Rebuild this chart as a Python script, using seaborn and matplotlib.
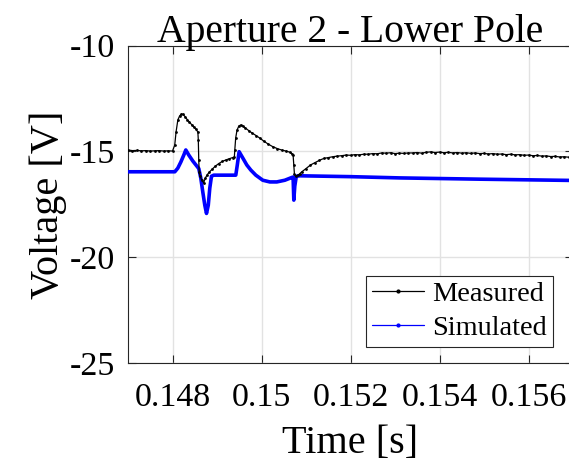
import matplotlib
matplotlib.use("Agg")
import matplotlib.pyplot as plt
from matplotlib.lines import Line2D
import seaborn as sns
import pandas as pd

# ---------------- data ----------------
meas_t = [
    0.14700, 0.14710, 0.14720, 0.14730, 0.14740, 0.14750, 0.14760, 0.14770, 0.14780, 0.14790, 0.14800,
    0.14805, 0.14808, 0.14812, 0.14816, 0.14820, 0.14824, 0.14828, 0.14833, 0.14838, 0.14843, 0.14848,
    0.14853, 0.14857, 0.14858, 0.14859, 0.14860, 0.14862, 0.14866, 0.14870, 0.14874, 0.14878, 0.14883,
    0.14889, 0.14896, 0.14904, 0.14912, 0.14920, 0.14928, 0.14935, 0.14939, 0.14940, 0.14942, 0.14945,
    0.14949, 0.14953, 0.14958, 0.14964, 0.14971, 0.14979, 0.14988, 0.14997, 0.15005, 0.15015, 0.15025,
    0.15035, 0.15045, 0.15055, 0.15063, 0.15068, 0.15071, 0.150725, 0.15074, 0.15077, 0.15082, 0.15086,
    0.15090, 0.15100, 0.15110, 0.15120, 0.15130, 0.15140, 0.15150, 0.15160, 0.15170, 0.15180, 0.15190,
    0.15200, 0.15210, 0.15220, 0.15230, 0.15240, 0.15250, 0.15260, 0.15270, 0.15280, 0.15290, 0.15300,
    0.15310, 0.15320, 0.15330, 0.15340, 0.15350, 0.15360, 0.15370, 0.15380, 0.15390, 0.15400, 0.15410,
    0.15420, 0.15430, 0.15440, 0.15450, 0.15460, 0.15470, 0.15480, 0.15490, 0.15500, 0.15510, 0.15520,
    0.15530, 0.15540, 0.15550, 0.15560, 0.15570, 0.15580, 0.15590, 0.15600, 0.15610, 0.15620, 0.15630,
    0.15640, 0.15650, 0.15660, 0.15670, 0.15680, 0.15690, 0.15700,
]
meas_v = [
    -14.93, -14.96, -14.95, -14.97, -14.96, -14.98, -14.97, -14.96, -14.98, -14.97, -14.98,
    -14.70, -14.08, -13.51, -13.32, -13.23, -13.25, -13.35, -13.49, -13.61, -13.73, -13.84,
    -13.96, -14.08, -14.46, -15.41, -15.98, -16.17, -16.36, -16.48, -16.25, -16.10, -15.97,
    -15.84, -15.70, -15.57, -15.47, -15.40, -15.34, -15.29, -15.26, -14.93, -14.36, -13.99,
    -13.80, -13.75, -13.80, -13.89, -14.01, -14.13, -14.25, -14.38, -14.51, -14.65, -14.77,
    -14.86, -14.93, -14.98, -15.03, -15.10, -15.17, -15.64, -16.07, -16.17, -16.12, -16.05,
    -15.97, -15.81, -15.64, -15.53, -15.42, -15.33, -15.29, -15.25, -15.22, -15.20, -15.17,
    -15.18, -15.15, -15.16, -15.13, -15.13, -15.10, -15.11, -15.07, -15.08, -15.06, -15.10,
    -15.08, -15.09, -15.07, -15.07, -15.05, -15.08, -15.04, -15.02, -15.05, -15.03, -15.06,
    -15.04, -15.07, -15.05, -15.08, -15.06, -15.09, -15.07, -15.10, -15.09, -15.12, -15.10,
    -15.13, -15.12, -15.15, -15.13, -15.16, -15.15, -15.18, -15.17, -15.20, -15.19, -15.22,
    -15.21, -15.24, -15.23, -15.26, -15.25, -15.27, -15.26,
]

sim_t = [
    0.146996, 0.147490, 0.148052, 0.148119, 0.148187, 0.148254, 0.148299, 0.148366, 0.148456,
    0.148546, 0.148591, 0.148636, 0.148681, 0.148726, 0.148764, 0.148804, 0.148838, 0.148876,
    0.148928, 0.149422, 0.149456, 0.149497, 0.149580, 0.149670, 0.149760, 0.149872, 0.150029,
    0.150187, 0.150344, 0.150524, 0.150681, 0.150710, 0.150726, 0.150748, 0.150782, 0.150861,
    0.151985, 0.153108, 0.154907, 0.157000,
]
sim_v = [
    -15.96, -15.96, -15.96, -15.79, -15.50, -15.17, -14.93, -15.17, -15.45,
    -15.69, -15.81, -16.26, -16.92, -17.54, -17.93, -17.54, -16.73, -16.17,
    -16.12, -16.12, -15.64, -15.01, -15.31, -15.64, -15.88, -16.12, -16.36,
    -16.44, -16.44, -16.36, -16.23, -16.21, -17.30, -16.64, -16.17, -16.15,
    -16.19, -16.25, -16.31, -16.37,
]

x_ticks = [0.148, 0.150, 0.152, 0.154, 0.156]
x_tick_labels = ["0.148", "0.15", "0.152", "0.154", "0.156"]
y_ticks = [-25, -20, -15, -10]
y_tick_labels = ["-25", "-20", "-15", "-10"]

title = "Aperture 2 - Lower Pole"
x_label = "Time [s]"
y_label = "Voltage [V]"
series_names = ["Measured", "Simulated"]

# ---------------- style ----------------
sns.set_theme(style="white")
plt.rcParams["font.family"] = ["Liberation Serif", "DejaVu Serif"]
plt.rcParams["axes.unicode_minus"] = False
plt.rcParams["text.color"] = "#000000"

meas_df = pd.DataFrame({"t": meas_t, "v": meas_v})
sim_df = pd.DataFrame({"t": sim_t, "v": sim_v})

fig = plt.figure(figsize=(5.69, 4.65), dpi=100)
ax = fig.add_axes([128 / 569, (465 - 363) / 465, 445 / 569, (363 - 45.7) / 465])

sns.lineplot(data=sim_df, x="t", y="v", ax=ax, color="#0000ff", linewidth=2.6,
             estimator=None, sort=False, zorder=3)
sns.lineplot(data=meas_df, x="t", y="v", ax=ax, color="#000000", linewidth=0.9,
             marker=".", markersize=4, markeredgewidth=0, estimator=None, sort=False, zorder=4)

ax.set_xlim(0.147, 0.157)
ax.set_ylim(-25, -10)
ax.set_xticks(x_ticks)
ax.set_xticklabels(x_tick_labels)
ax.set_yticks(y_ticks)
ax.set_yticklabels(y_tick_labels)

ax.grid(True, color="#e2e2e2", linewidth=1.0)
ax.set_axisbelow(True)
for s in ax.spines.values():
    s.set_color("#262626")
    s.set_linewidth(0.8)
    s.set_visible(True)

ax.tick_params(axis="both", direction="in", length=6, width=0.8, color="#262626",
               labelsize=24.5, labelcolor="#000000", top=True, right=True, bottom=True, left=True)
ax.tick_params(axis="x", pad=14)
ax.tick_params(axis="y", pad=9)

ax.set_title(title, fontsize=28.5, color="#000000", pad=3)
ax.set_xlabel(x_label, fontsize=29, color="#000000", labelpad=9)
ax.set_ylabel(y_label, fontsize=29, color="#000000", labelpad=2)

handles = [
    Line2D([0], [0], color="#000000", linewidth=0.9, marker=".", markersize=4),
    Line2D([0], [0], color="#0000ff", linewidth=0.9, marker=".", markersize=4),
]
leg = ax.legend(handles, series_names, loc="lower right",
                bbox_to_anchor=((553 - 128) / 445, (363 - 347) / 317.3),
                borderaxespad=0, fontsize=20.4, frameon=True, fancybox=False,
                edgecolor="#262626", framealpha=1, borderpad=0.2,
                handlelength=1.85, handletextpad=0.3, labelspacing=0.3,
                labelcolor="#000000")
leg.get_frame().set_linewidth(0.8)

fig.savefig("out.png", dpi=100)
